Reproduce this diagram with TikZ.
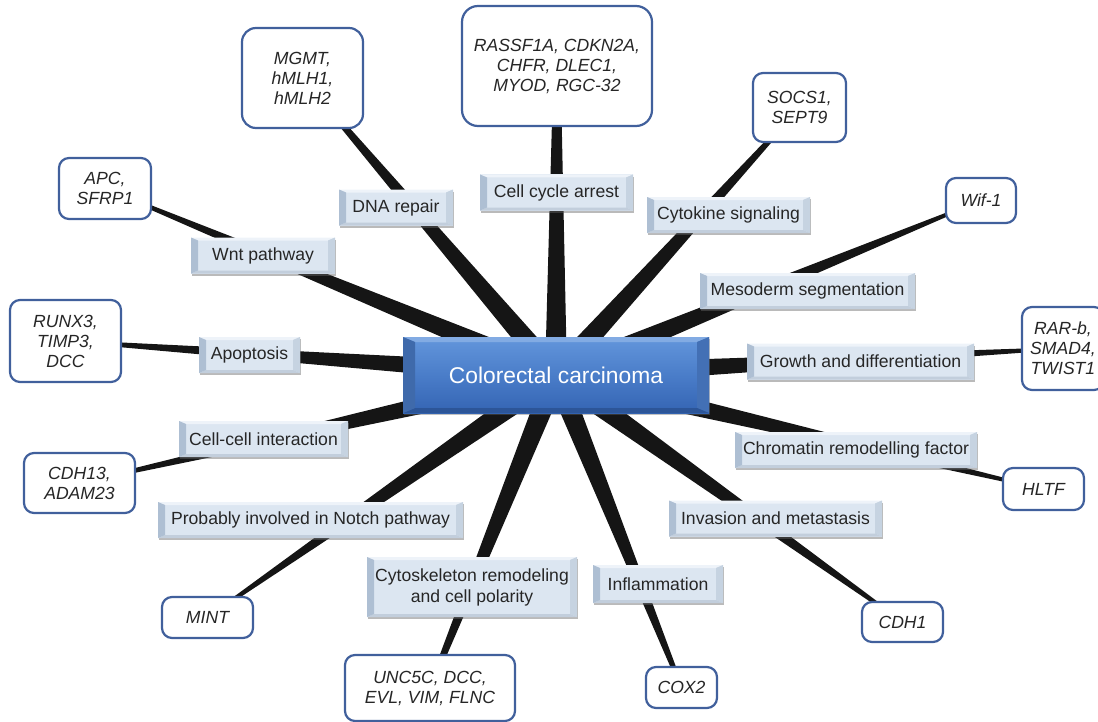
\documentclass[tikz,border=0pt]{standalone}
\usepackage{fontspec}
\setmainfont{Liberation Sans}
\usetikzlibrary{calc,backgrounds,shadows}

\definecolor{catface}{HTML}{DCE6F1}
\definecolor{cattop}{HTML}{EEF3F9}
\definecolor{catright}{HTML}{C6D3E1}
\definecolor{catbottom}{HTML}{C2CEDC}
\definecolor{catleft}{HTML}{AEBFD3}
\definecolor{hubtop}{HTML}{6396DC}
\definecolor{hubmid}{HTML}{4A7DC9}
\definecolor{hubbot}{HTML}{3464B3}
\definecolor{genedraw}{HTML}{41609C}
\definecolor{spokefill}{HTML}{151515}

\tikzset{
  bevel/.style n args={6}{path picture={
      \fill[#1] (path picture bounding box.north west) -- (path picture bounding box.north east)
        -- ([shift={(-#5,-#6)}]path picture bounding box.north east)
        -- ([shift={(#5,-#6)}]path picture bounding box.north west) -- cycle;
      \fill[#2] (path picture bounding box.north east) -- (path picture bounding box.south east)
        -- ([shift={(-#5,#6)}]path picture bounding box.south east)
        -- ([shift={(-#5,-#6)}]path picture bounding box.north east) -- cycle;
      \fill[#3] (path picture bounding box.south east) -- (path picture bounding box.south west)
        -- ([shift={(#5,#6)}]path picture bounding box.south west)
        -- ([shift={(-#5,#6)}]path picture bounding box.south east) -- cycle;
      \fill[#4] (path picture bounding box.south west) -- (path picture bounding box.north west)
        -- ([shift={(#5,-#6)}]path picture bounding box.north west)
        -- ([shift={(#5,#6)}]path picture bounding box.south west) -- cycle;
    }},
  catbox/.style={fill=catface, minimum height=18pt, inner sep=2pt, text=black!85,
    font=\fontsize{8.8}{10.5}\selectfont,
    drop shadow={shadow xshift=0.4pt, shadow yshift=-1.2pt, opacity=0.45, fill=black!60},
    bevel={cattop}{catright}{catbottom}{catleft}{3.5pt}{1.5pt}},
  hubbox/.style={top color=hubtop, bottom color=hubbot, middle color=hubmid,
    text=white, font=\fontsize{11.4}{13}\selectfont,
    drop shadow={shadow xshift=0.5pt, shadow yshift=-1.2pt, opacity=0.4, fill=black!60},
    bevel={hubtop!80!white}{hubmid!90!black}{hubbot!85!black}{hubmid!85!black}{6pt}{2.5pt}},
  genebox/.style={draw=genedraw, line width=1.1pt, fill=white, rounded corners=5pt,
    align=center, inner sep=2pt, text=black!85,
    font=\fontsize{8.8}{10}\selectfont\itshape},
}

\begin{document}
\begin{tikzpicture}[x=0.5pt, y=-0.5pt]
  \useasboundingbox (0,0) rectangle (1098,722);

  % centre
  \node[hubbox, minimum width=153pt, minimum height=38pt] (hub) at (556,375) {Colorectal carcinoma};

  % functions
  \node[catbox, minimum width=76.5pt] (cellcycle) at (556.5,192.5) {Cell cycle arrest};
  \node[catbox, minimum width=57pt] (dnarep) at (396,207.5) {DNA repair};
  \node[catbox, minimum width=81.5pt] (cytokine) at (728.5,215) {Cytokine signaling};
  \node[catbox, minimum width=72pt] (wnt) at (263,255.5) {Wnt pathway};
  \node[catbox, minimum width=107.5pt] (mesoderm) at (807.5,291) {Mesoderm segmentation};
  \node[catbox, minimum width=50.5pt] (apopt) at (249.5,355) {Apoptosis};
  \node[catbox, minimum width=113.5pt] (growth) at (860.5,361.5) {Growth and differentiation};
  \node[catbox, minimum width=84.5pt] (cellcell) at (263.5,439) {Cell-cell interaction};
  \node[catbox, minimum width=121pt] (chromatin) at (856,450) {Chromatin remodelling factor};
  \node[catbox, minimum width=152.5pt] (notch) at (310.5,520) {Probably involved in Notch pathway};
  \node[catbox, minimum width=106.5pt] (invasion) at (775.5,518.5) {Invasion and metastasis};
  \node[catbox, minimum width=105pt, minimum height=30pt, align=center] (cytoskel) at (472,587) {Cytoskeleton remodeling\\ and cell polarity};
  \node[catbox, minimum width=65pt, minimum height=19pt] (inflam) at (658,584) {Inflammation};

  % genes
  \node[genebox, minimum width=95pt, minimum height=60pt, rounded corners=8pt] (rassf) at (557,66) {RASSF1A, CDKN2A,\\ CHFR, DLEC1,\\ MYOD, RGC-32};
  \node[genebox, minimum width=60.5pt, minimum height=50pt, rounded corners=7pt] (mgmt) at (302.5,78) {MGMT,\\ hMLH1,\\ hMLH2};
  \node[genebox, minimum width=46.5pt, minimum height=34.5pt] (socs) at (799.5,107.5) {SOCS1,\\ SEPT9};
  \node[genebox, minimum width=35pt, minimum height=22.5pt] (wif) at (981,200.5) {Wif-1};
  \node[genebox, minimum width=46pt, minimum height=30.5pt] (apc) at (105,188.5) {APC,\\ SFRP1};
  \node[genebox, minimum width=55.5pt, minimum height=41pt] (runx) at (65.5,341) {RUNX3,\\ TIMP3,\\ DCC};
  \node[genebox, minimum width=41pt, minimum height=41.5pt] (rarb) at (1063,348.5) {RAR-b,\\ SMAD4,\\ TWIST1};
  \node[genebox, minimum width=55.5pt, minimum height=30pt] (cdh13) at (79.5,483) {CDH13,\\ ADAM23};
  \node[genebox, minimum width=40.5pt, minimum height=21pt] (hltf) at (1043.5,489) {HLTF};
  \node[genebox, minimum width=45.5pt, minimum height=20.5pt] (mint) at (207.5,617.5) {MINT};
  \node[genebox, minimum width=40.5pt, minimum height=20pt] (cdh1) at (902.5,622) {CDH1};
  \node[genebox, minimum width=85pt, minimum height=33pt] (unc) at (430,688) {UNC5C, DCC,\\ EVL, VIM, FLNC};
  \node[genebox, minimum width=35.5pt, minimum height=20.5pt] (cox) at (681.5,687.5) {COX2};

  % tapered spokes, behind the boxes
  \begin{scope}[on background layer]
    \foreach \g/\e in {rassf/1.75pt, mgmt/0.9pt, socs/0.8pt, wif/0.6pt, apc/0.6pt, runx/0.65pt,
        rarb/0.65pt, cdh13/0.6pt, hltf/0.6pt, mint/0.6pt, cdh1/0.7pt, unc/1.2pt, cox/1pt}
      \fill[spokefill] ($(hub)!5.5pt!90:(\g)$) -- ($(\g)!\e!-90:(hub)$)
        -- ($(\g)!\e!90:(hub)$) -- ($(hub)!5.5pt!-90:(\g)$) -- cycle;
  \end{scope}
\end{tikzpicture}
\end{document}
